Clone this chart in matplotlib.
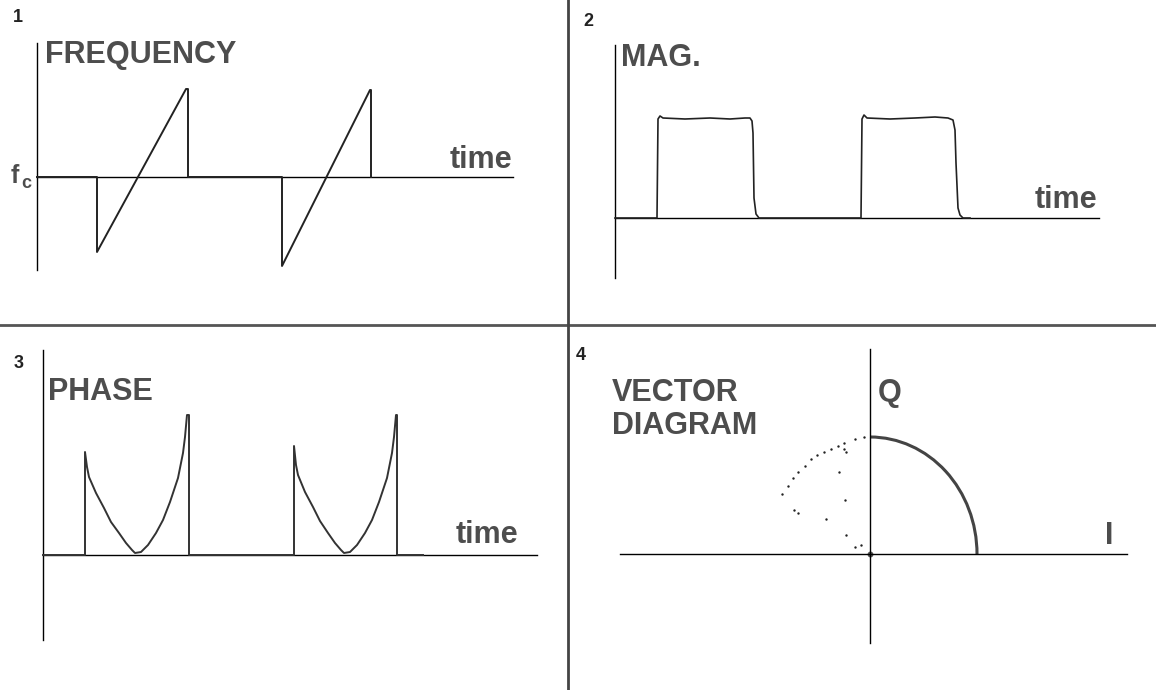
import matplotlib

matplotlib.use("Agg")
import matplotlib.pyplot as plt  # noqa: E402
from matplotlib.lines import Line2D  # noqa: E402
from matplotlib.patches import Arc  # noqa: E402

# ---- panel 1: frequency vs time (deviation from f_c) ----
freq_t = [0.0, 0.60, 0.60, 1.49, 1.51, 1.51, 2.45, 2.45, 3.33, 3.34, 3.34]
freq_f = [0.0, 0.0, -0.75, 0.88, 0.88, 0.0, 0.0, -0.89, 0.87, 0.87, 0.0]

# ---- panel 2: magnitude vs time ----
mag_t = [0.0, 0.42, 0.43, 0.45, 0.48, 0.70, 0.95, 1.15, 1.30, 1.35, 1.37, 1.38, 1.39, 1.41, 1.44, 1.52,
         2.46, 2.47, 2.49, 2.52, 2.75, 3.00, 3.20, 3.33, 3.38, 3.40, 3.41, 3.43, 3.45, 3.48, 3.55]
mag_a = [0.0, 0.0, 0.99, 1.02, 1.00, 0.99, 1.00, 0.99, 1.00, 1.00, 0.97, 0.85, 0.20, 0.04, 0.0, 0.0,
         0.0, 0.99, 1.03, 1.00, 0.99, 1.00, 1.01, 1.00, 0.98, 0.88, 0.55, 0.10, 0.03, 0.0, 0.0]

# ---- panel 3: phase vs time ----
phase_t = [0.0, 0.42, 0.42, 0.44, 0.46, 0.53, 0.61, 0.68, 0.76, 0.83, 0.89, 0.92, 0.98, 1.05,
           1.13, 1.20, 1.27, 1.35, 1.40, 1.42, 1.44, 1.46, 1.46,
           2.51, 2.51, 2.53, 2.55, 2.62, 2.70, 2.77, 2.85, 2.92, 2.98, 3.01, 3.07, 3.14,
           3.22, 3.29, 3.36, 3.44, 3.49, 3.51, 3.53, 3.54, 3.54, 3.80]
phase_p = [0.0, 0.0, 1.03, 0.88, 0.78, 0.62, 0.47, 0.33, 0.22, 0.12, 0.05, 0.02, 0.03, 0.10,
           0.22, 0.35, 0.53, 0.77, 1.02, 1.18, 1.40, 1.40, 0.0,
           0.0, 1.09, 0.90, 0.80, 0.63, 0.48, 0.34, 0.22, 0.12, 0.05, 0.02, 0.03, 0.10,
           0.22, 0.35, 0.53, 0.77, 1.02, 1.18, 1.40, 1.40, 0.0, 0.0]

# ---- panel 4: vector diagram ----
arc_radius = 1.0
arc_theta = (0.0, 90.0)
outer_i = [-0.82, -0.77, -0.72, -0.67, -0.61, -0.55, -0.50, -0.43, -0.36, -0.30, -0.24, -0.14, -0.06]
outer_q = [0.51, 0.58, 0.65, 0.70, 0.75, 0.81, 0.85, 0.87, 0.90, 0.92, 0.95, 0.98, 1.00]
inner_i = [-0.29, -0.23, -0.71, -0.67, -0.41, -0.22, -0.14, -0.08, -0.24, -0.22]
inner_q = [0.70, 0.46, 0.38, 0.35, 0.30, 0.16, 0.06, 0.08, 0.90, 0.87]

W, H = 1156, 690
TXT = "#4d4d4d"
NUM = "#222222"
FONT = "Liberation Sans"


def panel(fig, box, origin, sx=100.0, sy=100.0):
    x0, y0, x1, y1 = box
    ox, oy = origin
    ax = fig.add_axes([x0 / W, 1 - y1 / H, (x1 - x0) / W, (y1 - y0) / H])
    ax.set_xlim((x0 - ox) / sx, (x1 - ox) / sx)
    ax.set_ylim((oy - y1) / sy, (oy - y0) / sy)
    ax.axis("off")
    return ax


def label(ax, x, y, s, size=22, color=TXT, **kw):
    kw.setdefault("va", "center")
    ax.text(x, y, s, fontsize=size, fontweight="bold", color=color,
            family=FONT, ha="left", **kw)


fig = plt.figure(figsize=(W / 100, H / 100), dpi=100)
fig.patch.set_facecolor("white")

# panel 1
ax1 = panel(fig, (0, 0, 568, 325), (37, 177))
ax1.plot([0, 0], [-0.93, 1.34], color="black", lw=1.0)
ax1.plot([0, 4.76], [0, 0], color="black", lw=1.0)
ax1.plot(freq_t, freq_f, color="#222222", lw=1.4)
label(ax1, -0.24, 1.59, "1", size=13, color=NUM)
label(ax1, 0.08, 1.22, "FREQUENCY")
label(ax1, 4.13, 0.09, "time", va="baseline")
label(ax1, -0.26, -0.06, "f", size=18, va="baseline")
label(ax1, -0.155, -0.11, "c", size=13, va="baseline")

# panel 2
ax2 = panel(fig, (568, 0, 1156, 325), (615, 218))
ax2.plot([0, 0], [-0.60, 1.73], color="black", lw=1.0)
ax2.plot([0, 4.84], [0, 0], color="black", lw=1.0)
ax2.plot(mag_t, mag_a, color="#222222", lw=1.2)
label(ax2, -0.32, 1.96, "2", size=13, color=NUM)
label(ax2, 0.06, 1.60, "MAG.")
label(ax2, 4.20, 0.10, "time", va="baseline")

# panel 3
ax3 = panel(fig, (0, 325, 568, 690), (43, 555))
ax3.plot([0, 0], [-0.85, 2.05], color="black", lw=1.0)
ax3.plot([0, 4.94], [0, 0], color="black", lw=1.0)
ax3.plot(phase_t, phase_p, color="#333333", lw=1.4)
label(ax3, -0.29, 1.92, "3", size=13, color=NUM)
label(ax3, 0.05, 1.63, "PHASE")
label(ax3, 4.13, 0.12, "time", va="baseline")

# panel 4
ax4 = panel(fig, (568, 325, 1156, 690), (870, 554), sx=107.0, sy=117.0)
ax4.plot([0, 0], [-0.76, 1.75], color="black", lw=1.0)
ax4.plot([-2.34, 2.40], [0, 0], color="black", lw=1.0)
ax4.add_patch(Arc((0, 0), 2 * arc_radius, 2 * arc_radius, theta1=arc_theta[0],
                  theta2=arc_theta[1], color="#444444", lw=2.2))
ax4.scatter(outer_i, outer_q, s=3, color="#222222", lw=0)
ax4.scatter(inner_i, inner_q, s=3, color="#222222", lw=0)
ax4.scatter([0], [0], s=18, color="#555555", lw=0)
label(ax4, -2.75, 1.70, "4", size=13, color=NUM)
label(ax4, -2.41, 1.38, "VECTOR")
label(ax4, -2.41, 1.09, "DIAGRAM")
label(ax4, 0.07, 1.38, "Q")
label(ax4, 2.20, 0.15, "I")

# panel dividers
fig.add_artist(Line2D([0, 1], [1 - 325 / H, 1 - 325 / H], color="#555555", lw=2.0))
fig.add_artist(Line2D([568 / W, 568 / W], [0, 1], color="#444444", lw=2.0))

fig.savefig("out.png", dpi=100)
